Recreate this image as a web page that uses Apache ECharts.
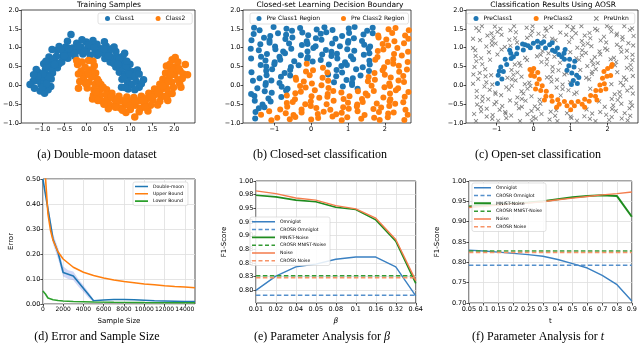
<!DOCTYPE html>
<html><head><meta charset="utf-8">
<script src="https://cdn.jsdelivr.net/npm/echarts@6.0.0/dist/echarts.min.js"></script>
<style>
html,body{margin:0;padding:0;background:#fff;width:640px;height:344px;overflow:hidden}
.p{position:absolute}
</style></head><body>
<div id="A" class="p" style="left:0;top:0;width:213px;height:172px"></div>
<div id="B" class="p" style="left:213px;top:0;width:213px;height:172px"></div>
<div id="C" class="p" style="left:426px;top:0;width:214px;height:172px"></div>
<div id="D" class="p" style="left:0;top:172px;width:213px;height:172px"></div>
<div id="E" class="p" style="left:213px;top:172px;width:213px;height:172px"></div>
<div id="F" class="p" style="left:426px;top:172px;width:214px;height:172px"></div>
<script>
// ---------- (a) Double-moon training samples ----------
const aXTicks = [-1.0,-0.5,0,0.5,1.0,1.5,2.0];
const aYTicks = [-1.0,-0.5,0,0.5,1.0,1.5,2.0];
const aClass1 = [
[0.80,-0.05],[0.81,0.16],[0.75,0.35],[0.67,0.49],[0.54,0.62],[0.42,0.71],[0.25,0.80],[0.09,0.80],[-0.08,0.83],[-0.26,0.77],[-0.42,0.72],[-0.56,0.62],[-0.66,0.47],[-0.77,0.33],[-0.80,0.17],[-0.81,-0.03],
[0.94,0.07],[0.88,0.30],[0.81,0.46],[0.68,0.63],[0.56,0.75],[0.37,0.86],[0.20,0.90],[0.01,0.95],[-0.18,0.92],[-0.39,0.84],[-0.54,0.76],[-0.70,0.61],[-0.80,0.47],[-0.89,0.28],[-0.92,0.11],
[1.04,0.02],[1.00,0.22],[0.95,0.41],[0.82,0.62],[0.70,0.76],[0.51,0.90],[0.33,0.97],[0.11,1.03],[-0.12,1.02],[-0.31,0.99],[-0.52,0.88],[-0.68,0.77],[-0.84,0.59],[-0.93,0.43],[-1.02,0.20],[-1.03,0.02],
[1.13,0.11],[1.06,0.36],[0.99,0.56],[0.83,0.77],[0.67,0.90],[0.45,1.04],[0.24,1.09],[0.00,1.15],[-0.22,1.12],[-0.47,1.02],[-0.66,0.93],[-0.85,0.75],[-0.97,0.57],[-1.09,0.34],[-1.12,0.13],
[1.16,0.41],[0.87,0.85],[0.41,1.16],[-0.10,1.21],[-0.35,1.35],[-0.43,1.17],[-0.78,0.95],[-1.14,0.42],[-1.21,0.11],[0.15,1.19],[0.63,1.02],[-0.62,1.03],
[-1.28,0.02],[-1.18,-0.08],[-1.05,-0.15],[-0.95,-0.21],[-0.87,-0.12],[-1.00,-0.05],[-0.90,0.05],[1.30,0.15],[1.25,0.04],[1.20,-0.05],[0.95,-0.10],[0.88,-0.06],[1.10,-0.12],
[0.86,0.22],[0.62,0.58],[0.28,0.86],[-0.28,0.86],[-0.62,0.57],[-0.86,0.22],[0.98,0.30],[0.75,0.70],[0.40,0.97],[-0.40,0.98],[-0.76,0.70],[-0.99,0.31],[0.05,1.08],[-0.05,0.88],[0.90,0.52],[-0.90,0.52],
[1.10,0.25],[0.92,0.64],[0.58,0.97],[0.18,1.00],[-0.18,1.04],[-0.58,0.96],[-0.92,0.64],[-1.10,0.24],[0.72,0.55],[-0.72,0.55],[0.50,0.78],[-0.50,0.78],[1.20,0.30],[-1.20,0.28]
];
const aClass2 = [
[0.18,0.52],[0.21,0.33],[0.25,0.16],[0.33,0.02],[0.46,-0.12],[0.58,-0.21],[0.74,-0.29],[0.92,-0.31],[1.08,-0.32],[1.25,-0.29],[1.42,-0.21],[1.55,-0.10],[1.67,0.03],[1.74,0.16],[1.80,0.33],[1.82,0.51],
[0.08,0.41],[0.12,0.22],[0.20,0.03],[0.31,-0.12],[0.45,-0.25],[0.62,-0.35],[0.81,-0.41],[1.00,-0.43],[1.19,-0.41],[1.38,-0.35],[1.55,-0.25],[1.69,-0.12],[1.80,0.04],[1.88,0.21],[1.92,0.40],
[-0.03,0.48],[-0.01,0.29],[0.06,0.08],[0.17,-0.11],[0.31,-0.26],[0.48,-0.39],[0.68,-0.48],[0.89,-0.52],[1.11,-0.53],[1.32,-0.48],[1.51,-0.39],[1.69,-0.27],[1.83,-0.10],[1.94,0.08],[2.01,0.29],[2.03,0.49],
[-0.12,0.38],[-0.07,0.15],[0.02,-0.07],[0.16,-0.26],[0.34,-0.41],[0.54,-0.53],[0.77,-0.60],[1.00,-0.64],[1.23,-0.61],[1.46,-0.53],[1.67,-0.42],[1.84,-0.26],[1.98,-0.06],[2.08,0.15],[2.13,0.38],
[-0.20,0.55],[-0.15,0.10],[0.14,-0.36],[0.50,-0.62],[0.90,-0.72],[1.10,-0.84],[1.40,-0.68],[1.85,-0.40],[2.15,-0.05],[2.20,0.30],[2.25,0.55],[2.02,0.74],[2.30,0.28],[-0.22,0.66],[-0.18,-0.08],[1.95,0.68],[2.08,0.62],[1.90,0.56],[0.05,0.66],[-0.10,0.62],[0.15,0.64],
[0.14,0.40],[0.28,0.10],[0.56,-0.30],[0.90,-0.44],[1.30,-0.40],[1.62,-0.20],[1.86,0.10],[1.98,0.40],[-0.06,0.22],[0.22,-0.18],[0.66,-0.58],[1.34,-0.58],[1.80,-0.30],[2.12,0.05],[1.00,-0.54],[0.40,-0.50],
[0.38,-0.05],[0.70,-0.38],[1.10,-0.42],[1.48,-0.30],[1.75,-0.02],[1.92,0.28],[0.04,0.32],[-0.02,0.05],[0.26,-0.40],[0.82,-0.66],[1.20,-0.70],[1.62,-0.52],[1.95,-0.22],[2.18,0.18],[-0.18,0.30],[2.10,0.45]
];

// ---------- (b) Closed-set decision regions ----------
const bXTicks = [-1,0,1,2];
const bYTicks = [-1.0,-0.5,0,0.5,1.0,1.5,2.0];
const bClass1 = [
[-1.55,1.53],[-1.40,1.46],[-1.02,1.55],[-0.67,1.50],[-0.52,1.45],[-0.30,1.52],[0.15,1.48],[0.36,1.54],[0.58,1.47],[1.02,1.51],[1.18,1.55],[1.52,1.45],[1.67,1.53],
[-1.56,1.36],[-1.11,1.31],[-0.90,1.38],[-0.68,1.34],[-0.24,1.40],[-0.08,1.33],[0.26,1.37],[0.41,1.41],[0.84,1.31],[1.03,1.39],[1.42,1.35],[1.67,1.38],
[-1.62,1.20],[-1.28,1.26],[-1.13,1.19],[-0.70,1.23],[-0.51,1.27],[-0.12,1.17],[0.13,1.25],[0.28,1.21],[0.66,1.24],[1.01,1.18],[1.16,1.25],[1.38,1.18],
[-1.38,1.09],[-1.13,1.13],[-0.98,1.03],[-0.60,1.11],[-0.25,1.07],[-0.10,1.10],[0.12,1.04],[0.57,1.11],[0.78,1.04],[1.00,1.13],[1.44,1.08],[1.60,1.03],
[-1.64,0.97],[-1.42,0.93],[-0.97,0.96],[-0.76,0.90],[-0.54,0.97],[-0.10,0.90],[0.06,0.99],[0.40,0.94],[0.55,0.89],[0.98,0.96],[1.17,0.92],[1.56,0.98],
[-1.36,0.76],[-1.20,0.83],[-0.86,0.76],[-0.71,0.85],[-0.28,0.80],[-0.09,0.75],[0.30,0.82],[0.55,0.78],[0.70,0.84],[1.08,0.77],[1.43,0.81],[1.58,0.85],
[-1.63,0.71],[-1.24,0.66],[-0.99,0.61],[-0.84,0.68],[-0.46,0.64],[-0.11,0.70],[0.04,0.63],[0.26,0.67],[0.71,0.71],[0.92,0.61],[1.14,0.69],[1.58,0.65],
[-1.37,0.54],[-1.22,0.50],[-1.00,0.56],[-0.55,0.49],[-0.34,0.53],[0.48,0.55],[0.82,0.51],[0.97,0.54],[1.40,0.48],[1.59,0.55],
[-1.62,0.35],[-1.22,0.39],[-1.06,0.43],[-0.72,0.33],[-0.57,0.41],[0.69,0.41],[0.84,0.34],[1.22,0.43],[1.57,0.38],
[-1.40,0.19],[-1.21,0.27],[-0.82,0.23],[-0.57,0.26],[0.46,0.29],[0.68,0.24],[1.13,0.19],[1.34,0.26],
[-1.58,0.12],[-1.23,0.06],[-1.08,0.13],[-0.86,0.06],[0.62,0.08],[0.96,0.14],[1.11,0.07],
[-1.46,-0.08],[-1.24,0.01],[-0.80,-0.04],[-0.64,-0.09],[0.86,-0.03],[1.11,0.01],[1.26,-0.09],
[-1.63,-0.23],[-1.26,-0.16],[-1.07,-0.20],[-0.68,-0.14],
[-1.54,-0.28],[-1.16,-0.35],[-0.81,-0.31],
[-1.53,-0.41],[-1.32,-0.51],[-1.10,-0.43],
[-1.42,-0.61],[-1.27,-0.58],
[-1.51,-0.71],[-1.52,-0.88]
];
const bClass2 = [
[2.10,1.49],[2.29,1.52],[2.65,1.46],
[1.82,1.32],[2.20,1.39],[2.55,1.32],
[1.83,1.27],[2.04,1.22],[2.26,1.17],[2.64,1.24],
[1.94,1.10],[2.09,1.06],[2.52,1.12],
[1.81,0.91],[1.96,0.95],[2.34,0.99],[2.63,0.89],
[1.80,0.75],[2.25,0.83],[2.46,0.79],
[1.74,0.68],[2.08,0.62],[2.23,0.69],[2.62,0.62],
[-0.12,0.57],[0.32,0.47],[1.98,0.48],[2.23,0.57],[2.38,0.52],
[-0.14,0.37],[0.05,0.40],[0.44,0.34],[1.72,0.33],[1.94,0.40],[2.39,0.36],[2.60,0.42],
[-0.42,0.20],[-0.04,0.27],[0.31,0.20],[1.56,0.22],[2.00,0.28],[2.16,0.21],[2.50,0.25],
[-0.41,0.15],[-0.20,0.10],[0.02,0.05],[0.46,0.12],[1.54,0.11],[1.73,0.15],[2.12,0.05],[2.37,0.13],[2.52,0.09],
[-0.30,-0.02],[-0.15,-0.06],[0.28,0.00],[0.47,-0.07],[1.64,-0.01],[1.99,-0.05],[2.14,-0.02],[2.36,-0.08],
[-0.43,-0.21],[-0.28,-0.17],[0.10,-0.13],[0.45,-0.23],[0.60,-0.15],[0.82,-0.19],[1.27,-0.16],[1.48,-0.22],[1.70,-0.15],[2.14,-0.22],[2.30,-0.13],[2.64,-0.18],
[-0.66,-0.27],[-0.44,-0.37],[0.01,-0.29],[0.22,-0.33],[0.44,-0.30],[0.88,-0.36],[1.04,-0.29],[1.38,-0.36],[1.53,-0.27],[1.96,-0.32],[2.15,-0.37],[2.54,-0.30],
[-0.66,-0.47],[-0.50,-0.44],[-0.16,-0.50],[-0.01,-0.43],[0.42,-0.50],[0.61,-0.41],[1.00,-0.46],[1.25,-0.51],[1.40,-0.44],[1.78,-0.48],[2.13,-0.42],[2.28,-0.49],[2.50,-0.45],
[-0.84,-0.64],[-0.65,-0.57],[-0.26,-0.64],[-0.01,-0.55],[0.14,-0.60],[0.52,-0.65],[0.87,-0.58],[1.02,-0.62],[1.24,-0.56],[1.69,-0.63],[1.90,-0.59],[2.12,-0.55],[2.56,-0.65],
[-1.36,-0.78],[-1.14,-0.69],[-0.69,-0.74],[-0.48,-0.79],[-0.26,-0.72],[0.18,-0.76],[0.34,-0.70],[0.68,-0.77],[0.83,-0.73],[1.26,-0.69],[1.45,-0.79],[1.84,-0.71],[2.09,-0.75],[2.24,-0.72],[2.62,-0.78],
[-1.08,-0.93],[-0.92,-0.86],[-0.58,-0.90],[-0.43,-0.84],[0.00,-0.91],[0.19,-0.87],[0.58,-0.83],[0.83,-0.93],[0.98,-0.85],[1.36,-0.89],[1.71,-0.86],[1.86,-0.92],[2.08,-0.85],[2.53,-0.92]
];

// ---------- (c) Open-set classification with AOSR ----------
const cXTicks = [-1,0,1,2];
const cYTicks = [-1.0,-0.5,0,0.5,1.0,1.5,2.0];
const cPreClass1 = [
[1.07,0.13],[1.03,0.33],[0.95,0.52],[0.83,0.69],[0.68,0.82],[0.51,0.93],[0.32,0.99],[0.12,1.02],[-0.09,1.00],[-0.28,0.94],[-0.46,0.84],[-0.61,0.71],[-0.73,0.55],[-0.82,0.37],[-0.86,0.17],
[1.18,0.05],[1.16,0.27],[1.09,0.49],[0.97,0.69],[0.82,0.85],[0.64,0.99],[0.43,1.08],[0.21,1.12],[-0.01,1.12],[-0.23,1.08],[-0.44,0.99],[-0.62,0.85],[-0.77,0.69],[-0.89,0.49],[-0.96,0.27],[-0.98,0.05],
[1.22,0.21],[1.11,0.64],[0.85,0.95],[0.50,1.13],[0.10,1.17],[-0.30,1.10],[-0.65,0.93],
[0.90,0.40],[1.02,0.02],[0.58,0.90],[-0.15,1.05],[-0.55,0.76],[-0.93,0.38],[0.27,1.16],[0.76,0.76]
];
const cPreClass2 = [
[1.90,0.37],[1.86,0.19],[1.79,0.01],[1.68,-0.14],[1.54,-0.27],[1.38,-0.37],[1.20,-0.43],[1.02,-0.45],[0.83,-0.43],[0.65,-0.38],[0.48,-0.29],[0.34,-0.16],[0.23,-0.01],[0.15,0.16],[0.11,0.34],
[2.00,0.45],[1.98,0.24],[1.91,0.04],[1.81,-0.14],[1.67,-0.29],[1.50,-0.42],[1.31,-0.50],[1.10,-0.54],[0.90,-0.54],[0.69,-0.50],[0.50,-0.42],[0.33,-0.29],[0.19,-0.14],[0.09,0.04],[0.02,0.24],[0.00,0.45],
[2.08,0.26],[1.95,-0.10],[1.71,-0.39],[1.38,-0.58],[1.00,-0.65],[0.62,-0.58],[0.29,-0.39],[0.05,-0.10],[-0.08,0.26],
[-0.10,0.42],[2.10,0.50],[2.12,0.55],[-0.05,0.36]
];
const cPreUnkn = [
[-1.55,1.52],[-1.40,1.57],[-1.05,1.56],[-0.90,1.50],[-0.53,1.57],[-0.19,1.53],[-0.03,1.57],[0.32,1.51],[0.47,1.55],[0.91,1.57],[1.07,1.54],[1.29,1.57],[1.66,1.50],[1.98,1.57],[2.08,1.53],[2.45,1.57],[2.66,1.51],
[-1.48,1.45],[-1.14,1.38],[-0.98,1.42],[-0.63,1.46],[-0.48,1.41],[-0.04,1.44],[0.13,1.37],[0.35,1.45],[0.72,1.40],[1.04,1.47],[1.14,1.38],[1.51,1.39],[1.72,1.46],[2.10,1.43],[2.25,1.37],[2.60,1.47],
[-1.64,1.24],[-1.25,1.32],[-1.09,1.27],[-0.87,1.34],[-0.50,1.25],[-0.18,1.26],[-0.08,1.33],[0.29,1.30],[0.50,1.24],[0.88,1.34],[1.03,1.27],[1.38,1.32],[1.53,1.25],[1.90,1.29],[2.24,1.33],[2.40,1.28],[2.70,1.31],
[-1.45,1.20],[-1.13,1.17],[-1.03,1.11],[-0.66,1.21],[-0.45,1.14],[0.59,1.20],[0.96,1.15],[1.30,1.18],[1.46,1.11],[1.81,1.19],[1.96,1.14],[2.40,1.21],[2.56,1.12],
[-1.64,0.99],[-1.28,1.03],[-1.13,1.07],[-0.78,1.02],[-0.63,1.05],[1.18,1.00],[1.34,1.07],[1.56,1.04],[1.93,0.98],[2.25,1.08],[2.35,1.01],[2.69,1.06],
[-1.58,0.93],[-1.21,0.88],[-0.87,0.95],[0.24,0.91],[0.40,0.85],[0.99,0.88],[1.31,0.93],[1.41,0.86],[1.78,0.90],[1.99,0.94],[2.37,0.89],[2.52,0.92],
[-1.57,0.78],[-1.42,0.72],[-0.98,0.82],[-0.23,0.73],[0.09,0.77],[0.19,0.81],[0.56,0.76],[1.15,0.72],[1.30,0.80],[1.65,0.75],[1.80,0.82],[2.17,0.73],[2.51,0.74],[2.67,0.81],
[-1.55,0.64],[-1.18,0.68],[-0.39,0.59],[-0.18,0.67],[0.21,0.62],[0.36,0.69],[0.71,0.60],[1.23,0.68],[1.57,0.65],[1.73,0.59],[2.08,0.69],[2.23,0.62],[2.67,0.67],
[-1.60,0.49],[-1.39,0.56],[-0.51,0.55],[-0.36,0.52],[0.35,0.56],[0.51,0.49],[1.45,0.51],[1.61,0.55],[2.20,0.53],[2.52,0.46],[2.62,0.54],
[-1.46,0.33],[-1.31,0.43],[-0.60,0.41],[-0.44,0.34],[0.51,0.37],[0.67,0.40],[0.89,0.33],[1.26,0.41],[1.58,0.36],[1.68,0.43],[2.26,0.35],[2.64,0.42],
[-1.63,0.29],[-1.30,0.24],[-1.15,0.27],[-0.71,0.20],[-0.55,0.28],[-0.33,0.23],[0.36,0.21],[0.46,0.22],[0.83,0.29],[1.42,0.20],[1.57,0.30],[2.44,0.21],[2.68,0.25],
[-1.50,0.17],[-1.28,0.08],[-0.59,0.16],[-0.49,0.13],[-0.12,0.07],[0.48,0.10],[0.63,0.15],[0.98,0.08],[1.50,0.16],[2.35,0.07],[2.50,0.15],
[-1.64,0.04],[-1.33,-0.03],[-1.12,0.02],[-0.74,-0.05],[-0.59,-0.01],[-0.24,0.03],[-0.09,-0.02],[0.62,-0.06],[0.78,0.02],[2.10,0.03],[2.42,0.00],[2.64,-0.06],
[-1.54,-0.15],[-1.19,-0.12],[-1.04,-0.19],[-0.67,-0.11],[-0.33,-0.16],[-0.17,-0.09],[0.78,-0.10],[0.94,-0.13],[1.16,-0.19],[1.53,-0.09],[2.32,-0.18],[2.53,-0.14],
[-1.54,-0.31],[-1.38,-0.30],[-1.03,-0.23],[-0.88,-0.26],[-0.44,-0.32],[-0.28,-0.22],[-0.06,-0.29],[0.73,-0.27],[1.10,-0.23],[2.19,-0.24],[2.34,-0.29],[2.68,-0.22],
[-1.39,-0.42],[-1.23,-0.37],[-1.01,-0.44],[-0.64,-0.40],[-0.32,-0.36],[-0.22,-0.41],[0.16,-0.38],[1.77,-0.43],[2.11,-0.36],[2.27,-0.39],[2.62,-0.45],
[-1.53,-0.51],[-1.43,-0.58],[-1.06,-0.50],[-0.85,-0.55],[-0.47,-0.48],[-0.32,-0.57],[0.03,-0.56],[0.18,-0.49],[1.92,-0.57],[2.15,-0.53],[2.37,-0.49],[2.66,-0.54],
[-1.42,-0.69],[-1.27,-0.62],[-0.92,-0.65],[-0.77,-0.71],[-0.40,-0.61],[-0.06,-0.68],[0.11,-0.63],[0.46,-0.70],[0.61,-0.66],[1.43,-0.64],[1.80,-0.71],[2.12,-0.63],[2.22,-0.68],[2.59,-0.61],
[-1.61,-0.76],[-1.27,-0.83],[-1.11,-0.79],[-0.76,-0.75],[-0.61,-0.80],[-0.17,-0.77],[-0.01,-0.84],[0.21,-0.76],[0.58,-0.81],[0.90,-0.74],[1.00,-0.83],[1.37,-0.82],[1.58,-0.75],[1.96,-0.78],[2.11,-0.84],[2.46,-0.74],[2.61,-0.81],
[-1.56,-0.95],[-1.12,-0.89],[-0.96,-0.94],[-0.74,-0.87],[-0.37,-0.95],[-0.05,-0.95],[0.06,-0.88],[0.43,-0.91],[0.64,-0.95],[1.02,-0.87],[1.17,-0.94],[1.52,-0.89],[1.67,-0.95],[2.04,-0.92],[2.38,-0.88],[2.54,-0.93]
];

// ---------- (d) Error vs sample size ----------
const dXTicks = [0,2000,4000,6000,8000,10000,12000,14000];
const dYTicks = [0,0.1,0.2,0.3,0.4,0.5];
const dMoonX = [0,500,1000,1500,2000,3000,5000,6000,7000,8000,9000,10000,11000,12000,13000,14000,15000];
const dMoonY = [0.50,0.38,0.26,0.205,0.126,0.112,0.013,0.016,0.018,0.018,0.017,0.015,0.013,0.012,0.011,0.010,0.010];
const dBandX = [500,1000,1500,2000,2500,3000,3500,4000,4500,5000];
const dBandLow = [0.35,0.24,0.18,0.11,0.10,0.095,0.07,0.048,0.025,0.008];
const dBandHigh = [0.40,0.28,0.225,0.15,0.135,0.13,0.10,0.075,0.048,0.018];
const dUpperX = [250,500,750,1000,1500,2000,3000,4000,5000,6000,7000,8000,9000,10000,11000,12000,13000,14000,15000];
const dUpperY = [0.51,0.36,0.295,0.255,0.208,0.18,0.147,0.127,0.114,0.104,0.096,0.090,0.085,0.080,0.077,0.073,0.070,0.068,0.065];
const dLowerX = [0,250,500,1000,1500,2000,3000,4000,5000,7000,10000,15000];
const dLowerY = [0.052,0.040,0.024,0.017,0.014,0.012,0.010,0.009,0.008,0.007,0.006,0.005];

// ---------- (e) Parameter analysis for beta ----------
const eCats = ['0.01','0.02','0.04','0.05','0.08','0.1','0.16','0.32','0.64'];
const eYTicks = [0.8,0.825,0.85,0.875,0.9,0.925,0.95,0.975,1.0];
const eYLabels = ['0.80','0.83','0.85','0.88','0.90','0.93','0.95','0.98','1.00'];
const eOmniglot = [0.800,0.826,0.843,0.848,0.857,0.861,0.861,0.843,0.790];
const eMnistNoise = [0.974,0.971,0.965,0.962,0.952,0.948,0.929,0.890,0.813];
const eNoise = [0.982,0.977,0.969,0.965,0.955,0.949,0.932,0.893,0.818];
const eCrosrOmniglot = 0.791, eCrosrMnistNoise = 0.827, eCrosrNoise = 0.823;

// ---------- (f) Parameter analysis for t ----------
const fCats = ['0.05','0.1','0.15','0.2','0.25','0.3','0.4','0.5','0.6','0.7','0.8','0.9'];
const fYTicks = [0.70,0.75,0.80,0.85,0.90,0.95,1.00];
const fOmniglot = [0.830,0.828,0.825,0.822,0.819,0.815,0.807,0.797,0.786,0.768,0.745,0.705];
const fMnistNoise = [0.937,0.940,0.942,0.945,0.947,0.950,0.955,0.960,0.963,0.965,0.963,0.912];
const fNoise = [0.935,0.938,0.941,0.944,0.946,0.949,0.954,0.958,0.962,0.966,0.969,0.973];
const fCrosrOmniglot = 0.793, fCrosrMnistNoise = 0.828, fCrosrNoise = 0.824;

// ---------- styling helpers ----------
const FONT = 'DejaVu Sans', SERIF = 'Liberation Serif';
const C_BLUE = '#1f77b4', C_ORANGE = '#ff7f0e', C_GREEN = '#2ca02c', C_GRAY = '#7f7f7f';
const L_BLUE = '#3a80c2', L_GREEN = '#1f8c1f', L_CORAL = '#f47c4c';
const L_BLUE_D = '#5590cc', L_GREEN_D = '#349a34', L_CORAL_D = '#f79468';
const CROSS = 'path://M0,1.3L1.3,0L5,3.7L8.7,0L10,1.3L6.3,5L10,8.7L8.7,10L5,6.3L1.3,10L0,8.7L3.7,5Z';
const box = {show:true, borderColor:'#000', borderWidth:0.7, backgroundColor:'#fff'};
function minus(s){ return s.replace('-', '\u2212'); }
function near(arr, v){ return arr.findIndex(t => Math.abs(t - v) < 1e-6); }
// legend line icon: bounding box keeps the legend item's aspect; thickness t px, dashes d/g px
function lineIcon(w, h, t, dashed){
  const S = 2, W = w*S, H = h*S, y0 = (H - t*S)/2, th = t*S;
  let p = 'path://M0,0h0.01v0.01h-0.01z';
  if (!dashed) p += 'M0,' + y0 + 'h' + W + 'v' + th + 'h-' + W + 'z';
  else { const d = 4*S, g = 2.5*S; for (let x = 0; x < W; x += d + g) { const len = Math.min(d, W - x); p += 'M' + x + ',' + y0 + 'h' + len + 'v' + th + 'h-' + len + 'z'; } }
  p += 'M' + (W-0.01) + ',' + (H-0.01) + 'h0.01v0.01h-0.01z';
  return p;
}
function valAxis(min, max, ticks, fmt, extra){
  return Object.assign({
    type:'value', min:min, max:max,
    axisLine:{show:false, onZero:false},
    axisTick:{show:true, length:2.5, customValues:ticks, lineStyle:{color:'#000', width:0.7}},
    axisLabel:{show:true, customValues:ticks, formatter:fmt, fontSize:6.5, fontFamily:FONT, color:'#000', margin:2.5, hideOverlap:false},
    splitLine:{show:false}
  }, extra || {});
}
function catAxis(cats, extra){
  return Object.assign({
    type:'category', data:cats, boundaryGap:false,
    axisLine:{show:false, onZero:false},
    axisTick:{show:true, length:2.5, alignWithLabel:true, interval:0, lineStyle:{color:'#000', width:0.7}},
    axisLabel:{interval:0, fontSize:6.5, fontFamily:FONT, color:'#000', margin:2.5, hideOverlap:false},
    splitLine:{show:true, interval:0, lineStyle:{color:'#dedede', width:0.8}}
  }, extra || {});
}
function txt(x, y, text, size, family, extra){
  return {type:'text', x:x, y:y, silent:true, z:100,
    style:Object.assign({text:text, fontSize:size, fontFamily:family, fill:'#000',
      align:'center', verticalAlign:'middle', textAlign:'center', textVerticalAlign:'middle'}, extra || {})};
}
function legend(o){
  return Object.assign({show:true, orient:'horizontal', selectedMode:false,
    backgroundColor:'rgba(255,255,255,0.85)', borderColor:'#cfcfcf', borderWidth:0.6, borderRadius:2,
    textStyle:{fontFamily:FONT, fontSize:6, color:'#000'}}, o);
}
function scat(name, data, color, size, symbol){
  return {type:'scatter', name:name, data:data, symbol:symbol || 'circle', symbolSize:size,
    itemStyle:{color:color, opacity:1}, animation:false};
}
function line(name, xs, ys, color, width, dashed){
  return {type:'line', name:name, data:xs.map((x,i)=>[x, ys[i]]), symbol:'none', showSymbol:false,
    lineStyle:{color:color, width:width, type:dashed ? [4,2.5] : 'solid'}, itemStyle:{color:color}, animation:false};
}
function catLine(name, ys, color, width, dashed){
  return {type:'line', name:name, data:ys, symbol:'none', showSymbol:false,
    lineStyle:{color:color, width:width, type:dashed ? [4.5,2.5] : 'solid'}, itemStyle:{color:color}, animation:false};
}
function lineLegendData(names, dashedFlags, w, h, widths){
  return names.map((n,i)=>({name:n, icon:lineIcon(w, h, widths[i], dashedFlags[i])}));
}
const f1 = v => near(aYTicks, v) < 0 ? '' : minus(v.toFixed(1));
const f0 = v => minus(v.toFixed(0));

// ---------- (a) ----------
echarts.init(document.getElementById('A')).setOption({
  animation:false,
  grid:Object.assign({left:21, top:10, width:174, height:113}, box),
  xAxis:valAxis(-1.48, 2.47, aXTicks, v => minus(v.toFixed(1))),
  yAxis:valAxis(-1, 2, aYTicks, f1),
  legend:legend({left:98, top:13, padding:[2.5,7,2.5,7], itemWidth:5, itemHeight:5, itemGap:21,
    data:[{name:'Class1', icon:'circle'},{name:'Class2', icon:'circle'}]}),
  series:[scat('Class1', aClass1, C_BLUE, 7.5), scat('Class2', aClass2, C_ORANGE, 7.5)],
  graphic:[txt(109, 5.5, 'Training Samples', 7.5, FONT), txt(97, 155, '(a) Double-moon dataset', 12, SERIF)]
});

// ---------- (b) ----------
echarts.init(document.getElementById('B')).setOption({
  animation:false,
  grid:Object.assign({left:30, top:10, width:168, height:113}, box),
  xAxis:valAxis(-1.85, 2.71, bXTicks, f0),
  yAxis:valAxis(-1, 2, bYTicks, f1),
  legend:legend({left:37, top:13, padding:[2.5,4,2.5,6.5], itemWidth:5, itemHeight:5, itemGap:21,
    data:[{name:'Pre Class1 Region', icon:'circle'},{name:'Pre Class2 Region', icon:'circle'}]}),
  series:[scat('Pre Class1 Region', bClass1, C_BLUE, 6), scat('Pre Class2 Region', bClass2, C_ORANGE, 6)],
  graphic:[txt(117, 5.5, 'Closed-set Learning Decision Boundary', 7.5, FONT), txt(107, 155, '(b) Closed-set classification', 12, SERIF)]
});

// ---------- (c) ----------
echarts.init(document.getElementById('C')).setOption({
  animation:false,
  grid:Object.assign({left:40, top:10, width:172, height:113}, box),
  xAxis:valAxis(-1.83, 2.82, cXTicks, f0),
  yAxis:valAxis(-1, 2, cYTicks, f1),
  legend:legend({left:41, top:13, padding:[2.5,6,2.5,6.5], itemWidth:5, itemHeight:5, itemGap:21,
    data:[{name:'PreClass1', icon:'circle'},{name:'PreClass2', icon:'circle'},{name:'PreUnkn', icon:CROSS}]}),
  series:[scat('PreUnkn', cPreUnkn, C_GRAY, 4.5, CROSS), scat('PreClass1', cPreClass1, C_BLUE, 5), scat('PreClass2', cPreClass2, C_ORANGE, 5)],
  graphic:[txt(127, 5.5, 'Classification Results Using AOSR', 7.5, FONT), txt(112, 155, '(c) Open-set classification', 12, SERIF)]
});

// ---------- (d) ----------
const gridLine = {show:true, lineStyle:{color:'#dedede', width:0.8}};
const dLegendNames = ['Double-moon','Upper Bound','Lower Bound'];
echarts.init(document.getElementById('D')).setOption({
  animation:false,
  grid:Object.assign({left:27, top:7, width:168, height:125}, box),
  xAxis:valAxis(0, 15000, dXTicks, v => v.toFixed(0), {splitLine:gridLine, name:'Sample Size', nameLocation:'middle', nameGap:11,
    nameTextStyle:{fontSize:7, fontFamily:FONT, color:'#000'},
    axisLabel:{show:true, customValues:dXTicks, formatter:v => v.toFixed(0), fontSize:6, fontFamily:FONT, color:'#000', margin:2.5, hideOverlap:false}}),
  yAxis:valAxis(0, 0.5, dYTicks, v => v.toFixed(2), {splitLine:gridLine, name:'Error', nameLocation:'middle', nameGap:22,
    nameTextStyle:{fontSize:7, fontFamily:FONT, color:'#000'}}),
  legend:legend({orient:'vertical', left:133, top:10, padding:[2,4,2,2], itemWidth:13, itemHeight:5, itemGap:2.3,
    textStyle:{fontFamily:FONT, fontSize:4.6, color:'#000'},
    data:lineLegendData(dLegendNames, [false,false,false], 13, 5, [1.6,1.6,1.6])}),
  series:[
    {type:'custom', name:'band', silent:true, z:1, clip:true, data:[[0,0]],
      renderItem:(params, api) => {
        const up = dBandX.map((x,i)=>api.coord([x, dBandHigh[i]]));
        const lo = dBandX.map((x,i)=>api.coord([x, dBandLow[i]])).reverse();
        return {type:'polygon', shape:{points:up.concat(lo)}, style:{fill:'rgba(95,115,225,0.28)'}};
      }},
    line('Double-moon', dMoonX, dMoonY, C_BLUE, 1.6),
    line('Upper Bound', dUpperX, dUpperY, C_ORANGE, 1.6),
    line('Lower Bound', dLowerX, dLowerY, C_GREEN, 1.6)
  ],
  graphic:[txt(97, 165, '(d) Error and Sample Size', 12, SERIF)]
});

// ---------- (e) ----------
const efNames = ['Omniglot','CROSR Omniglot','MNIST-Noise','CROSR MNIST-Noise','Noise','CROSR Noise'];
const efDashed = [false,true,false,true,false,true];
echarts.init(document.getElementById('E')).setOption({
  animation:false,
  grid:Object.assign({left:34, top:9, width:174, height:122}, box),
  xAxis:catAxis(eCats, {name:'β', nameLocation:'middle', nameGap:9,
    nameTextStyle:{fontSize:7.5, fontFamily:FONT, fontStyle:'italic', color:'#000'}}),
  yAxis:valAxis(0.777, 1.0, eYTicks, v => { const i = near(eYTicks, v); return i < 0 ? '' : eYLabels[i]; },
    {splitLine:gridLine, name:'F1-Score', nameLocation:'middle', nameGap:19, nameTextStyle:{fontSize:7, fontFamily:FONT, color:'#000'}}),
  legend:legend({orient:'vertical', left:37, top:45, padding:[2,4,2,2], itemWidth:23, itemHeight:5.5, itemGap:2.3,
    textStyle:{fontFamily:FONT, fontSize:4.6, color:'#000'},
    data:lineLegendData(efNames, efDashed, 23, 5.5, [1.4,1.5,1.6,1.5,1.4,1.5])}),
  series:[
    catLine('Omniglot', eOmniglot, L_BLUE, 1.4),
    catLine('CROSR Omniglot', eCats.map(()=>eCrosrOmniglot), L_BLUE_D, 1.5, true),
    catLine('MNIST-Noise', eMnistNoise, L_GREEN, 1.6),
    catLine('CROSR MNIST-Noise', eCats.map(()=>eCrosrMnistNoise), L_GREEN_D, 1.5, true),
    catLine('Noise', eNoise, L_CORAL, 1.4),
    catLine('CROSR Noise', eCats.map(()=>eCrosrNoise), L_CORAL_D, 1.5, true)
  ],
  graphic:[txt(109, 165, '(e) Parameter Analysis for {i|β}', 12, SERIF,
    {rich:{i:{fontStyle:'italic', fontFamily:SERIF, fontSize:12}}})]
});

// ---------- (f) ----------
echarts.init(document.getElementById('F')).setOption({
  animation:false,
  grid:Object.assign({left:42, top:9, width:166, height:122}, box),
  xAxis:catAxis(fCats, {name:'t', nameLocation:'middle', nameGap:10,
    nameTextStyle:{fontSize:7, fontFamily:FONT, color:'#000'}}),
  yAxis:valAxis(0.70, 1.0, fYTicks, v => v.toFixed(2),
    {splitLine:gridLine, name:'F1-Score', nameLocation:'middle', nameGap:15, nameTextStyle:{fontSize:7, fontFamily:FONT, color:'#000'}}),
  legend:legend({orient:'vertical', left:46, top:11, padding:[2,4,2,2], itemWidth:17, itemHeight:5.5, itemGap:2.3,
    textStyle:{fontFamily:FONT, fontSize:4.6, color:'#000'},
    data:lineLegendData(efNames, efDashed, 17, 5.5, [1.4,1.5,2,1.5,1.4,1.5])}),
  series:[
    catLine('Omniglot', fOmniglot, L_BLUE, 1.4),
    catLine('CROSR Omniglot', fCats.map(()=>fCrosrOmniglot), L_BLUE_D, 1.5, true),
    catLine('MNIST-Noise', fMnistNoise, L_GREEN, 2),
    catLine('CROSR MNIST-Noise', fCats.map(()=>fCrosrMnistNoise), L_GREEN_D, 1.5, true),
    catLine('Noise', fNoise, L_CORAL, 1.4),
    catLine('CROSR Noise', fCats.map(()=>fCrosrNoise), L_CORAL_D, 1.5, true)
  ],
  graphic:[txt(112, 165, '(f) Parameter Analysis for {i|t}', 12, SERIF,
    {rich:{i:{fontStyle:'italic', fontFamily:SERIF, fontSize:12}}})]
});
</script>
</body></html>
